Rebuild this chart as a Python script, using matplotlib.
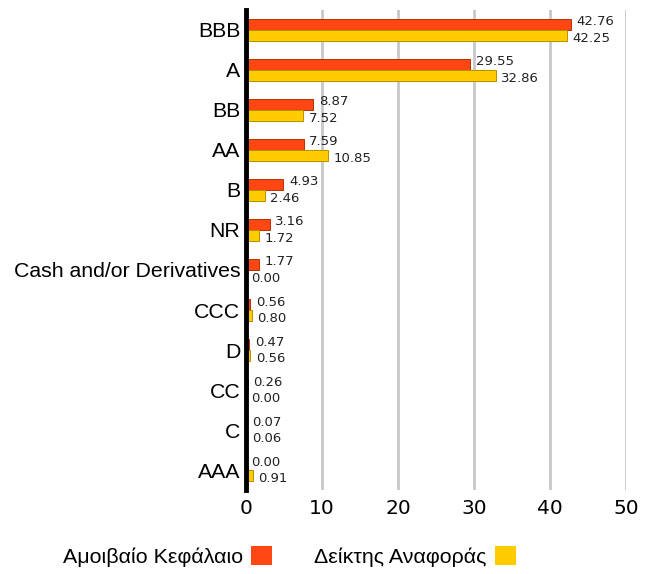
import matplotlib.pyplot as plt
from matplotlib.patches import Patch

categories = ["BBB", "A", "BB", "AA", "B", "NR", "Cash and/or Derivatives",
              "CCC", "D", "CC", "C", "AAA"]
fund = [42.76, 29.55, 8.87, 7.59, 4.93, 3.16, 1.77, 0.56, 0.47, 0.26, 0.07, 0.00]
index = [42.25, 32.86, 7.52, 10.85, 2.46, 1.72, 0.00, 0.80, 0.56, 0.00, 0.06, 0.91]
series_names = ["Αμοιβαίο Κεφάλαιο", "Δείκτης Αναφοράς"]
xticks = [0, 10, 20, 30, 40, 50]

red = "#FF4713"
yellow = "#FFCC00"

fig = plt.figure(figsize=(6.54, 5.74), dpi=100)
ax = fig.add_axes([0.376, 0.146, 0.581, 0.837])

h = 0.27
ypos = list(range(len(categories)))
ax.barh([y - h / 2 for y in ypos], fund, height=h, color=red,
        edgecolor="#B83000", linewidth=0.7, zorder=3)
ax.barh([y + h / 2 for y in ypos], index, height=h, color=yellow,
        edgecolor="#B88F00", linewidth=0.7, zorder=3)

for y, v in zip(ypos, fund):
    ax.annotate(f"{v:.2f}", (v, y - 0.2), xytext=(4, 0), textcoords="offset points",
                va="center", ha="left", fontsize=9.5, family="DejaVu Sans", color="#222222")
for y, v in zip(ypos, index):
    ax.annotate(f"{v:.2f}", (v, y + 0.22), xytext=(4, 0), textcoords="offset points",
                va="center", ha="left", fontsize=9.5, family="DejaVu Sans", color="#222222")

ax.set_xlim(0, 50)
ax.set_ylim(len(categories) - 0.5, -0.5)
ax.set_yticks(ypos)
ax.set_yticklabels(categories, fontsize=15.3, family="Liberation Sans")
ax.set_xticks(xticks)
ax.set_xticklabels([str(t) for t in xticks], fontsize=14.5, family="DejaVu Sans")
ax.tick_params(length=0, pad=4)
ax.tick_params(axis="x", pad=6)
ax.grid(axis="x", color="#c8c8c8", linewidth=2, zorder=0)
for s in ["top", "right", "bottom"]:
    ax.spines[s].set_visible(False)
ax.spines["left"].set_linewidth(3.5)
ax.spines["left"].set_zorder(5)

handles = [Patch(facecolor=red), Patch(facecolor=yellow)]
fig.legend(handles, series_names, loc="center", bbox_to_anchor=(0.442, 0.03),
           ncol=2, frameon=False, markerfirst=False,
           prop={"family": "Liberation Sans", "size": 15.4},
           handlelength=0.95, handleheight=0.95, columnspacing=2.0, handletextpad=0.4)

fig.savefig("out.png", dpi=100)
